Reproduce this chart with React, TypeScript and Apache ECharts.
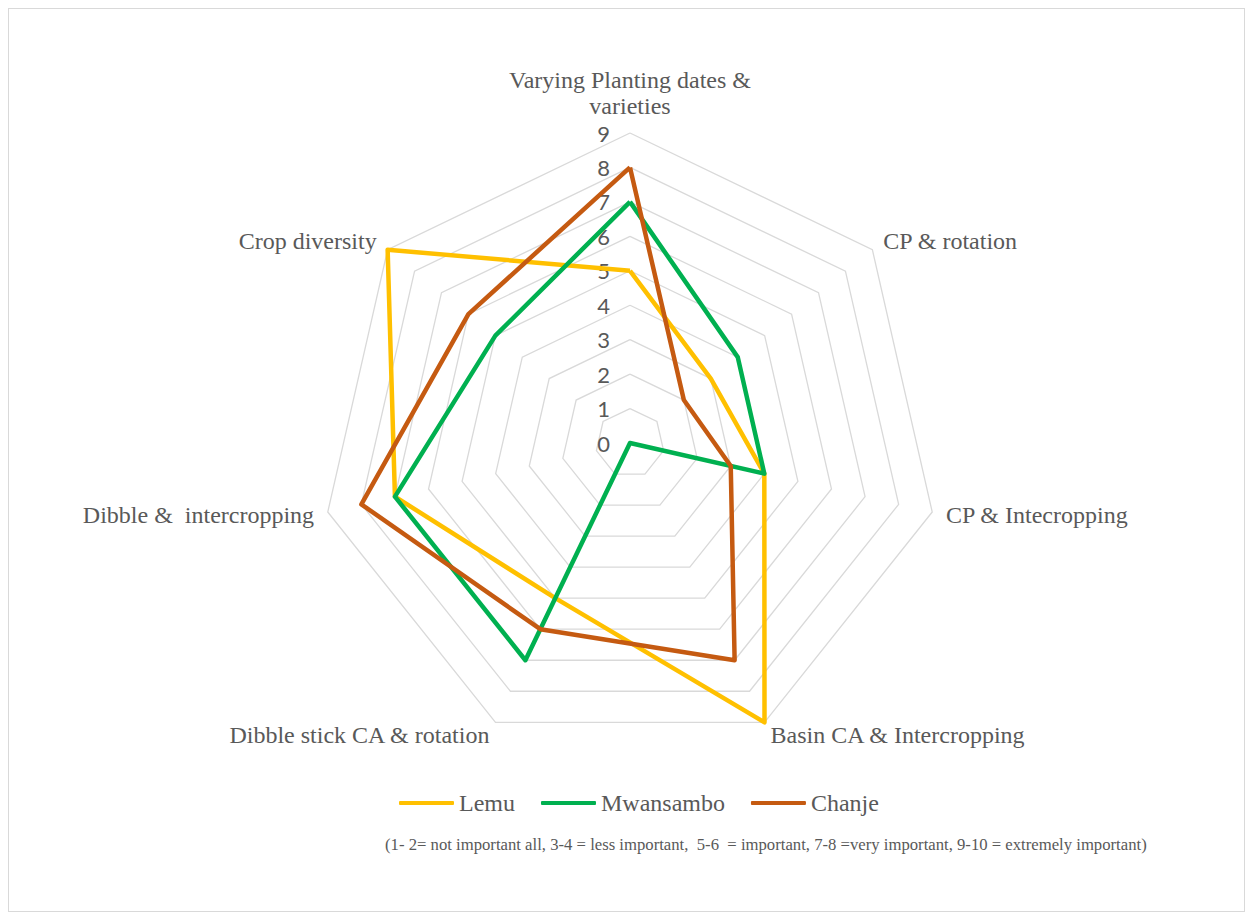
import React, { useEffect, useRef } from "react";
import * as echarts from "echarts";

// Categories in clockwise order starting at the top
const categories = [
  "Varying Planting dates &\nvarieties",
  "CP & rotation",
  "CP & Intecropping",
  "Basin CA & Intercropping",
  "Dibble stick CA & rotation",
  "Dibble &  intercropping",
  "Crop diversity",
];
const seriesNames = ["Lemu", "Mwansambo", "Chanje"];
const lemu = [5, 3, 4, 9, 5, 7, 9];
const mwansambo = [7, 4, 4, 0, 7, 7, 5];
const chanje = [8, 2, 3, 7, 6, 8, 6];
const colors = ["#FFC000", "#00B050", "#C55A11"];
const axisMax = 9;
const footnote =
  "(1- 2= not important all, 3-4 = less important,  5-6  = important, 7-8 =very important, 9-10 = extremely important)";

// ECharts draws radar indicators counter-clockwise; reorder to clockwise
const order = [0, 6, 5, 4, 3, 2, 1];
const reorder = (arr: any[]) => order.map((i) => arr[i]);

export default function App() {
  const ref = useRef<HTMLDivElement>(null);
  useEffect(() => {
    if (!ref.current) return;
    const chart = echarts.init(ref.current, undefined, { renderer: "svg" });
    const serif = "Liberation Serif";
    const tickLabel = {
      color: "#595959",
      fontSize: 22,
      fontFamily: "Lato",
      margin: 20,
      showMinLabel: true,
      showMaxLabel: true,
    };
    const indicator = reorder(categories).map((name, idx) => ({
      name,
      min: 0,
      max: axisMax,
      ...(idx === 0 ? { axisLabel: { ...tickLabel, show: true } } : {}),
    }));
    const data = [lemu, mwansambo, chanje];
    chart.setOption({
      animation: false,
      backgroundColor: "#ffffff",
      color: colors,
      textStyle: { fontFamily: serif },
      legend: {
        data: seriesNames,
        left: 385,
        top: 777,
        icon: "roundRect",
        itemWidth: 55,
        itemHeight: 4,
        itemGap: 26,
        textStyle: { fontFamily: serif, fontSize: 24, color: "#595959" },
      },
      radar: {
        center: [621, 434],
        radius: 310,
        startAngle: 90,
        shape: "polygon",
        splitNumber: 9,
        axisName: {
          color: "#595959",
          fontFamily: serif,
          fontSize: 24,
          lineHeight: 26,
        },
        nameGap: 14,
        axisLine: { show: false },
        axisTick: { show: false },
        axisLabel: { ...tickLabel, show: false },
        splitArea: { show: false },
        splitLine: { lineStyle: { color: "#D9D9D9", width: 1.3 } },
        indicator,
      },
      series: [
        {
          type: "radar",
          symbol: "none",
          data: data.map((d, i) => ({
            name: seriesNames[i],
            value: reorder(d),
            lineStyle: { color: colors[i], width: 4.5 },
            itemStyle: { color: colors[i] },
          })),
        },
      ],
      graphic: [
        {
          type: "text",
          left: 376,
          top: 827,
          style: {
            text: footnote,
            font: `16.7px "Liberation Serif"`,
            fill: "#595959",
          },
        },
      ],
    });
    return () => chart.dispose();
  }, []);
  return (
    <div
      style={{
        width: 1237,
        height: 904,
        border: "1px solid #D9D9D9",
        boxSizing: "border-box",
      }}
    >
      <div ref={ref} style={{ width: 1235, height: 902 }} />
    </div>
  );
}
